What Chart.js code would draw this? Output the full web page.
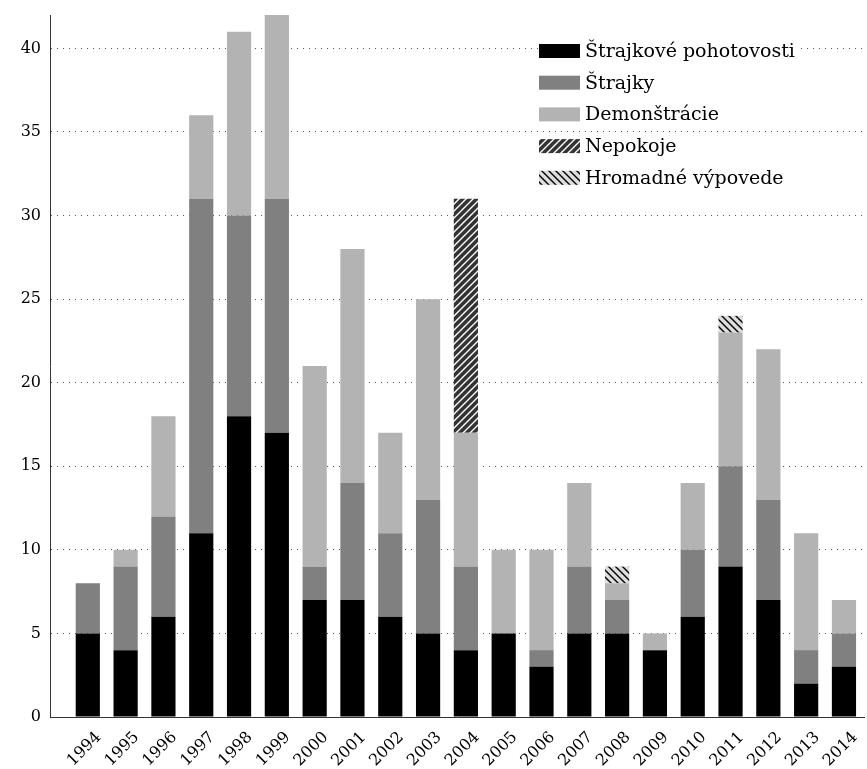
<!DOCTYPE html>
<html>
<head>
<meta charset="utf-8">
<script src="https://cdn.jsdelivr.net/npm/chart.js@4"></script>
<style>
html,body{margin:0;padding:0;background:#fff;}
#wrap{width:867px;height:769px;position:relative;}
</style>
</head>
<body>
<div id="wrap"><canvas id="c"></canvas></div>
<script>
const years = [1994,1995,1996,1997,1998,1999,2000,2001,2002,2003,2004,2005,2006,2007,2008,2009,2010,2011,2012,2013,2014];
const pohotovosti = [5,4,6,11,18,17,7,7,6,5,4,5,3,5,5,4,6,9,7,2,3];
const strajky     = [3,5,6,20,12,14,2,7,5,8,5,0,1,4,2,0,4,6,6,2,2];
const demonstracie= [0,1,6,5,11,11,12,14,6,12,8,5,6,5,1,1,4,8,9,7,2];
const nepokoje    = [0,0,0,0,0,0,0,0,0,0,14,0,0,0,0,0,0,0,0,0,0];
const vypovede    = [0,0,0,0,0,0,0,0,0,0,0,0,0,0,1,0,0,1,0,0,0];
const seriesNames = ['Štrajkové pohotovosti','Štrajky','Demonštrácie','Nepokoje','Hromadné výpovede'];
const yTicks = [0,5,10,15,20,25,30,35,40];

function makePattern(bg, fg, dir){
  const s = 7;
  const c = document.createElement('canvas');
  c.width = s; c.height = s;
  const g = c.getContext('2d');
  g.fillStyle = bg; g.fillRect(0,0,s,s);
  g.strokeStyle = fg; g.lineWidth = 1.4;
  g.beginPath();
  if (dir === '/') {
    g.moveTo(-1, s+1); g.lineTo(s+1, -1);
    g.moveTo(-1, 1); g.lineTo(1, -1);
    g.moveTo(s-1, s+1); g.lineTo(s+1, s-1);
  } else {
    g.moveTo(-1, -1); g.lineTo(s+1, s+1);
    g.moveTo(s-1, -1); g.lineTo(s+1, 1);
    g.moveTo(-1, s-1); g.lineTo(1, s+1);
  }
  g.stroke();
  return g.createPattern(c, 'repeat');
}
const ctx0 = document.getElementById('c').getContext('2d');
const patNep = makePattern('#333333', '#ffffff', '/');
const patVyp = makePattern('#dddddd', '#000000', '\\');

const colors = ['#000000', '#808080', '#b3b3b3', patNep, patVyp];
const values = [pohotovosti, strajky, demonstracie, nepokoje, vypovede];

const datasets = values.map((arr, k) => ({
  label: seriesNames[k],
  data: years.map((yr, i) => ({x: yr, y: arr[i]})),
  backgroundColor: colors[k],
  borderWidth: 0,
  categoryPercentage: 1,
  barPercentage: 0.64,
  stack: 's'
}));

const legendPlugin = {
  id: 'inlegend',
  afterDatasetsDraw(chart) {
    const {ctx, chartArea} = chart;
    const x0 = chartArea.left + 489;
    const y0 = 51;
    const step = 31.7;
    ctx.save();
    ctx.font = '19px "DejaVu Serif"';
    ctx.textBaseline = 'middle';
    chart.data.datasets.forEach((ds, i) => {
      const cy = y0 + i * step;
      const tw = ctx.measureText(ds.label).width;
      ctx.fillStyle = '#fff';
      ctx.fillRect(x0, cy - 11, 41 + 5 + tw + 2, 22);
      ctx.fillStyle = ds.backgroundColor;
      ctx.fillRect(x0, cy - 7, 41, 14);
      ctx.fillStyle = '#000';
      ctx.fillText(ds.label, x0 + 46, cy + 1);
    });
    ctx.restore();
  }
};

new Chart(ctx0, {
  type: 'bar',
  data: { datasets },
  plugins: [legendPlugin],
  options: {
    responsive: true,
    maintainAspectRatio: false,
    animation: false,
    layout: { padding: { top: 15, right: 3, left: 0, bottom: 0 } },
    plugins: { legend: { display: false }, tooltip: { enabled: false } },
    scales: {
      x: {
        type: 'linear',
        stacked: true,
        min: 1993,
        max: 2014.53,
        offset: false,
        grid: { display: false, drawTicks: false },
        border: { display: true, color: '#333', width: 1 },
        afterFit(scale) { scale.height = 52; scale.paddingLeft = 0; scale.paddingRight = 0; },
        afterBuildTicks(scale) { scale.ticks = years.map(v => ({value: v})); },
        ticks: {
          autoSkip: false,
          minRotation: 45,
          maxRotation: 45,
          padding: 11,
          labelOffset: 11,
          color: '#000',
          font: { family: '"DejaVu Serif"', size: 16 },
          callback: (v) => String(v)
        }
      },
      y: {
        stacked: true,
        min: 0,
        max: 42,
        afterFit(scale) { scale.width = 50; scale.paddingTop = 0; scale.paddingBottom = 0; },
        afterBuildTicks(scale) { scale.ticks = yTicks.map(v => ({value: v})); },
        grid: {
          color: '#555',
          lineWidth: 1,
          drawTicks: false
        },
        border: { display: true, color: '#333', width: 1, dash: [1,5] },
        ticks: {
          padding: 9,
          color: '#000',
          font: { family: '"DejaVu Serif"', size: 16 }
        }
      }
    }
  }
});
</script>
</body>
</html>
